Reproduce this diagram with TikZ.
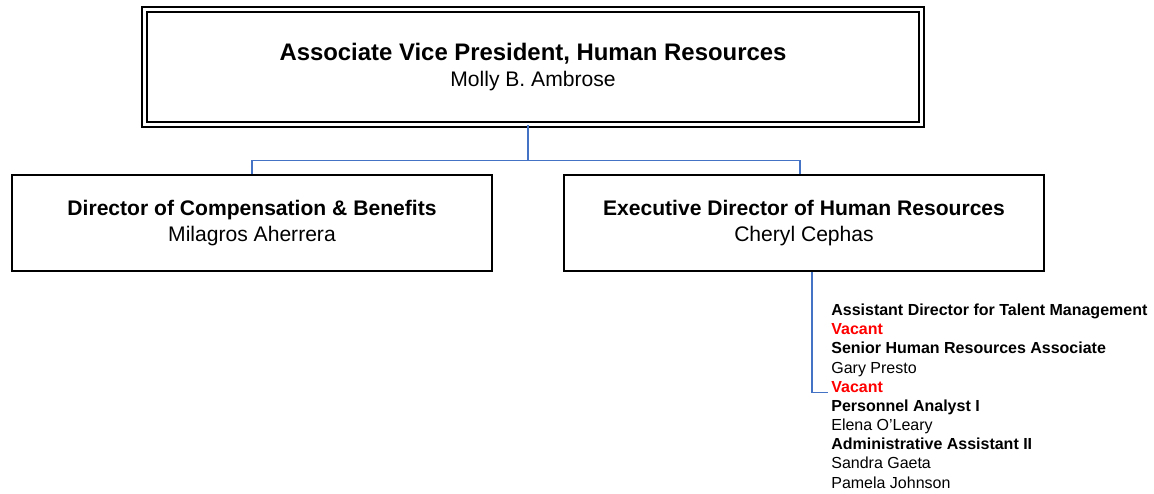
\documentclass[tikz,border=0pt]{standalone}
\usepackage{fontspec}
\setmainfont{Liberation Sans}
\usepackage{tikz}
\usetikzlibrary{positioning,calc}
\definecolor{linkblue}{RGB}{68,114,196}
\definecolor{vacred}{RGB}{255,0,0}
\tikzset{
  post/.style     = {rectangle,draw,line width=1.1pt,minimum width=9.6cm,
                     minimum height=1.92cm,align=center,
                     font=\fontsize{12}{15}\selectfont},
  headpost/.style = {post,double,line width=1pt,double distance=1.7pt,
                     minimum width=15.54cm,minimum height=2.3cm},
  link/.style     = {draw=linkblue,line width=0.85pt},
  staff/.style    = {inner xsep=1.7pt,inner ysep=0pt,anchor=base west,
                     font=\fontsize{9.1}{10.9}\selectfont},
  role/.style     = {staff,font=\fontsize{9.1}{10.9}\selectfont\bfseries},
  vacant/.style   = {role,text=vacred}
}
\newcommand{\DrawPost}[5]{%
  % draws the box (post)
  \node[#3] (#1) at #2 {#4\\#5};
}

\begin{document}
\begin{tikzpicture}
    \useasboundingbox (0,0) rectangle (23.08,9.88);

    \DrawPost{avp}{(10.66,8.54)}{headpost}
    {{\fontsize{13.6}{15}\selectfont\bfseries Associate Vice President, Human Resources}}
    {Molly B. Ambrose}

    \DrawPost{comp}{(5.04,5.42)}{post}
    {\textbf{Director of Compensation \& Benefits}}
    {Milagros Aherrera}

    \DrawPost{exec}{(16.08,5.42)}{post}
    {\textbf{Executive Director of Human Resources}}
    {Cheryl Cephas}

    % staff list under the executive director
    \foreach \txt/\kind [count=\i] in {
      Assistant Director for Talent Management/role,
      Vacant/vacant,
      Senior Human Resources Associate/role,
      Gary Presto/staff,
      Vacant/vacant,
      Personnel Analyst I/role,
      Elena O’Leary/staff,
      Administrative Assistant II/role,
      Sandra Gaeta/staff,
      Pamela Johnson/staff}
      \node[\kind] (l\i) at (16.56,{3.566-(\i-1)*0.383}) {\txt};

    \draw[link] ([xshift=-0.1cm]avp.south) -- ++(0,-0.7) coordinate (bus);
    \draw[link] (comp.north) |- (bus) -| ([xshift=-0.08cm]exec.north);
    \draw[link] ([xshift=0.16cm]exec.south) |- (l5.base west);
  \end{tikzpicture}
\end{document}
